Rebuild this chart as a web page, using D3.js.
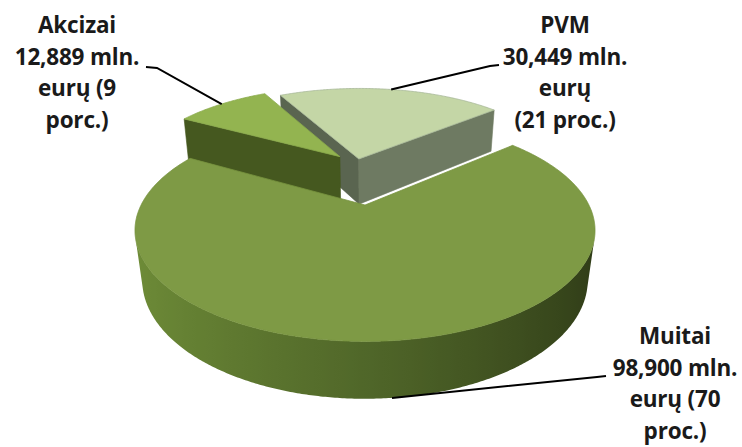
<!DOCTYPE html>
<html>
<head>
<meta charset="utf-8">
<script src="https://cdn.jsdelivr.net/npm/d3@7"></script>
<style>
  html, body { margin: 0; padding: 0; background: #ffffff; }
  svg { display: block; }
</style>
</head>
<body>
<svg id="chart" width="742" height="447"></svg>
<script>
// Revenue by type, mln. eurų
const categories = ["Akcizai", "PVM", "Muitai"];
const values = [12.889, 30.449, 98.9];
// closing lines of each label; {p} is replaced by the rounded share
const labelTails = [
  ["eurų ({p}", "porc.)"],
  ["eurų", "({p} proc.)"],
  ["eurų ({p}", "proc.)"]
];

// ---- look & layout ----
const tilt = 28 * Math.PI / 180;      // camera elevation
const camDist = 3.85;                 // camera distance (in radii) to the reference apex
const focal = 862;                    // px per radius at unit depth
const origin = { x: 365, y: 205 };    // screen position of the reference apex
const thickness = 0.254;              // slab height, in radii
const explode = [0.12, 0.06, 0.43];   // explosion of each slice, in radii
const startDeg = -60.4;

const topColors = ["#93b450", "#c4d6a6", "#7e9a45"];
const radialColors = [
  ["#45581f", "#45581f"],             // [start face, end face]
  ["#5a6550", "#6e7a62"],
  ["#4d6328", "#4d6328"]
];
const wallRamps = [
  ["#5b7528", "#45581f", "#34431a"],
  ["#7b8770", "#6e7a62", "#5c6652"],
  ["#6f8d38", "#506729", "#2f3b17"]
];
const topStroke = ["#89a94a", "#a7b798", "#77933f"];

const labelLayout = [
  { x: 77,  y: 33, lineEnd: { x: 146, y: 67 } },
  { x: 565, y: 33, lineEnd: { x: 499, y: 65 } },
  { x: 675, y: 344, lineEnd: { x: 606, y: 376 } }
];
const lineHeight = 31.7;

const svg = d3.select("#chart");
const defs = svg.append("defs");

const total = d3.sum(values);
const pie = d3.pie().sort(null).value(d => d)
  .startAngle(startDeg * Math.PI / 180)
  .endAngle(startDeg * Math.PI / 180 + 2 * Math.PI);
const arcs = pie(values);

const dir = b => [Math.sin(b), Math.cos(b)];   // bearing measured clockwise from the back
const sinT = Math.sin(tilt), cosT = Math.cos(tilt);
const camera = [0, -camDist * cosT, camDist * sinT];

function project(p) {
  const [X, Y, Z] = p;
  const yc = Y * sinT + Z * cosT;
  const dep = camDist + Y * cosT - Z * sinT;
  return [origin.x + focal * X / dep, origin.y - focal * yc / dep];
}
function depthOf(p) {
  return camDist + p[1] * cosT - p[2] * sinT;
}

// pie centre, placed so that the largest slice's apex sits at the reference apex
const mids = arcs.map(a => (a.startAngle + a.endAngle) / 2);
const big = values.indexOf(d3.max(values));
const md = dir(mids[big]);
const centre = [-explode[big] * md[0], -explode[big] * md[1]];

const apexes = arcs.map((a, i) => {
  const d = dir(mids[i]);
  return [centre[0] + explode[i] * d[0], centre[1] + explode[i] * d[1]];
});

const line = d3.line().curve(d3.curveLinearClosed);
const polyPath = pts => line(pts.map(project));

function visible(normal, point) {
  const v = [camera[0] - point[0], camera[1] - point[1], camera[2] - point[2]];
  return normal[0] * v[0] + normal[1] * v[1] + normal[2] * v[2] > 0;
}

// build faces per slice
const slices = arcs.map((a, i) => {
  const [vx, vy] = apexes[i];
  const n = Math.max(16, Math.ceil((a.endAngle - a.startAngle) / (Math.PI / 360)));
  const angs = d3.range(n + 1).map(k => a.startAngle + (a.endAngle - a.startAngle) * k / n);
  const rim = (b, z) => { const d = dir(b); return [vx + d[0], vy + d[1], z]; };
  const faces = [];
  const ramp = d3.piecewise(d3.interpolateRgb, wallRamps[i]);

  // outer wall: runs of camera-facing segments, each drawn as one shaded band
  const faceOK = angs.map(b => {
    const nd = dir(b);
    return visible([nd[0], nd[1], 0], rim(b, -thickness / 2));
  });
  let run = [];
  const flush = () => {
    if (run.length > 1) {
      const topPts = run.map(b => rim(b, 0));
      const botPts = run.map(b => rim(b, -thickness)).reverse();
      const scr = run.map(b => project(rim(b, -thickness / 2)));
      const x0 = d3.min(scr, p => p[0]), x1 = d3.max(scr, p => p[0]);
      const id = "wall-" + i + "-" + faces.length;
      const grad = defs.append("linearGradient").attr("id", id)
        .attr("gradientUnits", "userSpaceOnUse")
        .attr("x1", x0).attr("x2", x1).attr("y1", 0).attr("y2", 0);
      const stops = run.map((b, k) => ({
        offset: x1 > x0 ? (scr[k][0] - x0) / (x1 - x0) : 0,
        color: ramp((Math.sin(b) + 1) / 2)
      })).sort((p, q) => p.offset - q.offset);
      const step = Math.max(1, Math.floor(stops.length / 60));
      stops.forEach((st, k) => {
        if (k % step && k !== stops.length - 1) return;
        grad.append("stop").attr("offset", st.offset).attr("stop-color", st.color);
      });
      faces.push({ pts: topPts.concat(botPts), fill: `url(#${id})`, stroke: "none",
        depth: depthOf(rim(run[Math.floor(run.length / 2)], 0)) });
    }
    run = [];
  };
  angs.forEach((b, k) => { if (faceOK[k]) run.push(b); else flush(); });
  flush();

  // radial faces
  const apexT = [vx, vy, 0], apexB = [vx, vy, -thickness];
  const sDir = dir(a.startAngle - Math.PI / 2);
  const sPts = [apexT, rim(a.startAngle, 0), rim(a.startAngle, -thickness), apexB];
  if (visible([sDir[0], sDir[1], 0], sPts[1])) {
    faces.push({ pts: sPts, fill: radialColors[i][0], stroke: radialColors[i][0], depth: 0 });
  }
  const eDir = dir(a.endAngle + Math.PI / 2);
  const ePts = [apexT, rim(a.endAngle, 0), rim(a.endAngle, -thickness), apexB];
  if (visible([eDir[0], eDir[1], 0], ePts[1])) {
    faces.push({ pts: ePts, fill: radialColors[i][1], stroke: radialColors[i][1], depth: 0 });
  }
  const top = [apexT].concat(angs.map(b => rim(b, 0)));
  const cen = rim(mids[i], 0);
  return {
    i, faces, top,
    depth: depthOf([(vx + cen[0]) / 2, (vy + cen[1]) / 2, 0]),
    rimPoint: (b, z) => rim(b, z)
  };
});

// back to front
const order = slices.slice().sort((s, t) => t.depth - s.depth);
const gPie = svg.append("g");
order.forEach(s => {
  const g = gPie.append("g").attr("class", "slice " + categories[s.i]);
  g.selectAll("path.side").data(s.faces).join("path")
    .attr("class", "side")
    .attr("d", f => polyPath(f.pts))
    .attr("fill", f => f.fill)
    .attr("stroke", f => f.stroke)
    .attr("stroke-width", 0.6)
    .attr("stroke-linejoin", "round");
  g.append("path")
    .attr("class", "top")
    .attr("d", polyPath(s.top))
    .attr("fill", topColors[s.i])
    .attr("stroke", topStroke[s.i])
    .attr("stroke-width", 0.8)
    .attr("stroke-linejoin", "round");
});

// labels with leader lines
const fmt = v => v.toFixed(3).replace(".", ",");
const gLab = svg.append("g")
  .attr("font-family", "'Open Sans', 'DejaVu Sans', sans-serif")
  .attr("font-weight", 700)
  .attr("font-size", 22.5)
  .attr("letter-spacing", -0.2)
  .attr("fill", "#1a1a1a");

arcs.forEach((a, i) => {
  const share = Math.round(values[i] / total * 100);
  const lines = [categories[i], fmt(values[i]) + " mln."]
    .concat(labelTails[i].map(t => t.replace("{p}", share)));
  const L = labelLayout[i];
  const t = gLab.append("text").attr("text-anchor", "middle");
  lines.forEach((s, k) => {
    t.append("tspan").attr("x", L.x).attr("y", L.y + k * lineHeight).text(s);
  });

  // anchor: top rim for slices behind, lower rim for the front slice
  const s = slices[i];
  const anchor = i === big
    ? project(s.rimPoint(mids[i], -thickness))
    : project(s.rimPoint(mids[i], 0));
  const elbow = [L.lineEnd.x + (L.lineEnd.x < anchor[0] ? 11 : -9), L.lineEnd.y + 1];
  svg.append("path")
    .attr("d", d3.line()([anchor, elbow, [L.lineEnd.x, L.lineEnd.y]]))
    .attr("fill", "none")
    .attr("stroke", "#000")
    .attr("stroke-width", 2);
});
</script>
</body>
</html>
